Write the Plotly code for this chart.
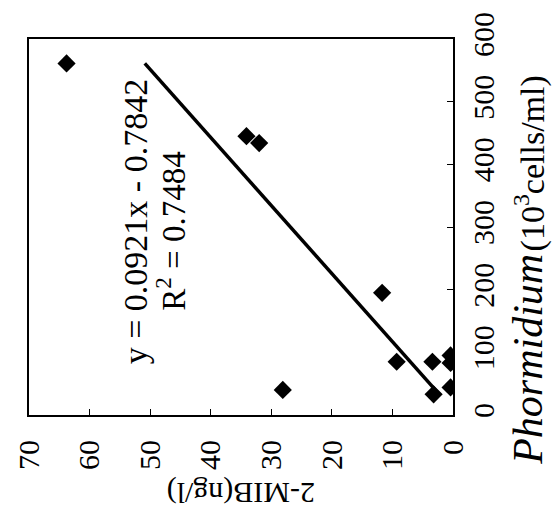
import numpy as np
import plotly.graph_objects as go

# data (x: 2-MIB ng/l, y: Phormidium 10^3 cells/ml)
mib = [63.8, 34.1, 32.0, 11.7, 9.3, 3.4, 0.4, 0.4, 28.1, 3.2, 0.4]
phormidium = [561, 445, 434, 195, 85, 85, 95, 83, 40, 33, 44]
slope = 0.0921
intercept = -0.7842
r2 = 0.7484
mib_ticks = [70, 60, 50, 40, 30, 20, 10, 0]
phorm_ticks = [0, 100, 200, 300, 400, 500, 600]

p_line = np.array([min(phormidium), max(phormidium)])
mib_line = slope * p_line + intercept

FONT = "Liberation Serif"

fig = go.Figure()
fig.add_trace(go.Scatter(x=mib_line, y=p_line, mode="lines",
                         line=dict(color="black", width=3.5), showlegend=False))
fig.add_trace(go.Scatter(x=mib, y=phormidium, mode="markers",
                         marker=dict(symbol="diamond", size=14, color="black"),
                         showlegend=False))

fig.update_layout(
    width=558, height=514,
    margin=dict(l=22, r=105, t=27, b=99),
    paper_bgcolor="white", plot_bgcolor="white",
    font=dict(family=FONT, color="black", size=28),
    xaxis=dict(range=[70, 0], tickvals=mib_ticks, ticktext=[str(v) for v in mib_ticks],
               showline=True, linecolor="black", linewidth=2, mirror=True,
               ticks="inside", ticklen=6, tickcolor="black", tickwidth=1,
               tickangle=-90, ticklabelstandoff=11, showgrid=False, zeroline=False,
               tickfont=dict(family=FONT, size=30)),
    yaxis=dict(range=[0, 600], tickvals=phorm_ticks, ticktext=[str(v) for v in phorm_ticks],
               side="right",
               showline=True, linecolor="black", linewidth=2, mirror=True,
               ticks="inside", ticklen=6, tickcolor="black", tickwidth=1,
               tickangle=-90, ticklabelstandoff=3, showgrid=False, zeroline=False,
               tickfont=dict(family=FONT, size=30)),
)

eq_text = f"y = {slope:.4f}x - {abs(intercept):.4f}"
r2_text = f"R<sup>2</sup> = {r2:.4f}"

common = dict(showarrow=False, xanchor="center", yanchor="middle")
annotations = [
    dict(text=eq_text, x=52.5, y=309, xref="x", yref="y", textangle=-90,
         font=dict(family=FONT, size=34, color="black"), **common),
    dict(text=r2_text, x=46.5, y=293, xref="x", yref="y", textangle=-90,
         font=dict(family=FONT, size=33, color="black"), **common),
    dict(text="2-MIB(ng/l)", x=0.5, y=-0.207, xref="paper", yref="paper",
         textangle=180, font=dict(family=FONT, size=30, color="black"), **common),
    dict(text="<i>Phormidium</i>", x=1.178, y=0.148, xref="paper", yref="paper",
         textangle=-90, font=dict(family=FONT, size=42, color="black"), **common),
    dict(text="(10<sup>3</sup>cells/ml)", x=1.18, y=0.67, xref="paper", yref="paper",
         textangle=-90, font=dict(family=FONT, size=34, color="black"), **common),
]
fig.update_layout(annotations=annotations)

fig.write_html("out.html")
